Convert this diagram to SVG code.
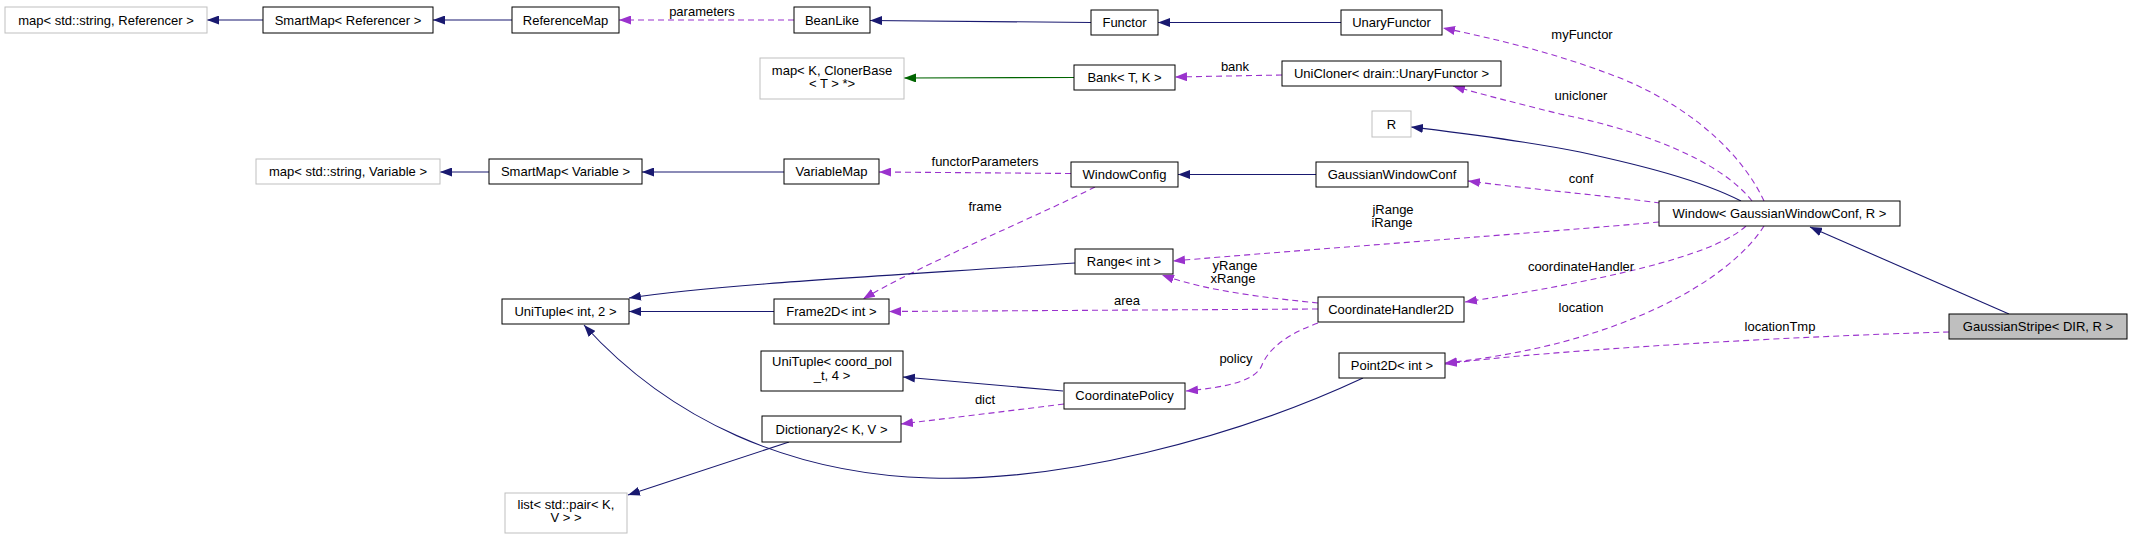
<svg xmlns="http://www.w3.org/2000/svg" width="2132" height="539" viewBox="0 0 2132 539">
<style>
text{font-family:"Liberation Sans",Arial,sans-serif;font-size:13px;fill:#000;text-anchor:middle}
.n{fill:#fff;stroke:#000;stroke-width:1}
.g{fill:#fff;stroke:#bfbfbf;stroke-width:1}
.s{fill:#bfbfbf;stroke:#000;stroke-width:1}
.e{fill:none;stroke:#191970;stroke-width:1.1;marker-end:url(#an)}
.d{fill:none;stroke:#9a32cd;stroke-width:1.1;stroke-dasharray:6,4;marker-end:url(#ap)}
.t{fill:none;stroke:#006400;stroke-width:1.1;marker-end:url(#ag)}
</style>
<defs>
<marker id="an" viewBox="0 0 12 9" refX="12" refY="4.5" markerWidth="12" markerHeight="9" orient="auto" markerUnits="userSpaceOnUse"><path d="M0,0 L12,4.5 L0,9 z" fill="#191970"/></marker>
<marker id="ap" viewBox="0 0 12 9" refX="12" refY="4.5" markerWidth="12" markerHeight="9" orient="auto" markerUnits="userSpaceOnUse"><path d="M0,0 L12,4.5 L0,9 z" fill="#9a32cd"/></marker>
<marker id="ag" viewBox="0 0 12 9" refX="12" refY="4.5" markerWidth="12" markerHeight="9" orient="auto" markerUnits="userSpaceOnUse"><path d="M0,0 L12,4.5 L0,9 z" fill="#006400"/></marker>
</defs>
<rect width="2132" height="539" fill="#fff"/>
<g id="connectors">
<path class="e" d="M263,20 L207,20"/>
<path class="e" d="M512,20 L433,20"/>
<path class="d" d="M794,20 L619,20"/>
<text x="702" y="15.5">parameters</text>
<path class="e" d="M1091,22.5 L870,20.5"/>
<path class="e" d="M1341,22.5 L1158,22.5"/>
<path class="t" d="M1074,77.5 L904,78"/>
<path class="d" d="M1282,75 L1175,77"/>
<text x="1235" y="71">bank</text>
<path class="d" d="M1764,201 C1745,160 1700,112 1625,80 C1560,54 1500,40 1443,28"/>
<text x="1582" y="39">myFunctor</text>
<path class="d" d="M1752,201 C1720,160 1640,130 1560,114 C1520,104 1480,94 1453,86"/>
<text x="1581" y="100">unicloner</text>
<path class="e" d="M1741,201 C1700,180 1640,165 1580,152 C1520,140 1460,133 1411,127"/>
<path class="e" d="M1316,174.5 L1178,174.5"/>
<path class="d" d="M1660,203 C1600,195 1520,188 1468,181"/>
<text x="1581" y="183">conf</text>
<path class="d" d="M1071,173.5 L879,172"/>
<text x="985" y="166">functorParameters</text>
<path class="e" d="M784,172 L642,172"/>
<path class="e" d="M489,172 L440,172"/>
<path class="d" d="M1095,187 C1040,215 920,265 863,299"/>
<text x="985" y="211">frame</text>
<path class="d" d="M1659,222 C1550,232 1300,250 1173,261"/>
<text x="1393" y="214">jRange</text>
<text x="1392" y="227">iRange</text>
<path class="e" d="M1075,263 C900,275 720,284 629,298"/>
<path class="e" d="M774,311.5 L629,311.5"/>
<path class="d" d="M1318,303 C1270,298 1210,292 1162,275"/>
<text x="1235" y="270">yRange</text>
<text x="1233" y="283">xRange</text>
<path class="d" d="M1318,309 L889,311.5"/>
<text x="1127" y="305">area</text>
<path class="d" d="M1746,226 C1720,250 1640,275 1465,302"/>
<text x="1581" y="271">coordinateHandler</text>
<path class="d" d="M1318,323 C1285,335 1268,350 1262,365 C1256,380 1230,387 1186,391"/>
<text x="1236" y="363">policy</text>
<path class="d" d="M1764,226 C1730,280 1620,345 1445,363"/>
<text x="1581" y="312">location</text>
<path class="d" d="M1949,332 C1800,336 1550,350 1445,364"/>
<text x="1780" y="331">locationTmp</text>
<path class="e" d="M2009,314 L1810,227"/>
<path class="e" d="M1063,391 L903,377"/>
<path class="d" d="M1064,404 C1000,412 950,418 901,424"/>
<text x="985" y="404">dict</text>
<path class="e" d="M1363,378 C1230,440 1060,482 930,478 C790,474 670,420 584,325"/>
<path class="e" d="M789,442 L628,495"/>
</g>
<g id="n_map_ref"><rect class="g" x="5" y="7" width="202" height="26"/><text x="106" y="24.5">map&lt; std::string, Referencer &gt;</text></g>
<g id="n_smartmap_ref"><rect class="n" x="263" y="7" width="170" height="26"/><text x="348" y="24.5">SmartMap&lt; Referencer &gt;</text></g>
<g id="n_referencemap"><rect class="n" x="512" y="7" width="107" height="26"/><text x="565.5" y="24.5">ReferenceMap</text></g>
<g id="n_beanlike"><rect class="n" x="794" y="7" width="76" height="26"/><text x="832" y="24.5">BeanLike</text></g>
<g id="n_functor"><rect class="n" x="1091" y="10" width="67" height="25"/><text x="1124.5" y="27">Functor</text></g>
<g id="n_unaryfunctor"><rect class="n" x="1341" y="10" width="101" height="25"/><text x="1391.5" y="27">UnaryFunctor</text></g>
<g id="n_map_cloner"><rect class="g" x="760" y="58" width="144" height="41"/><text x="832" y="75">map&lt; K, ClonerBase</text><text x="832" y="88">&lt; T &gt; *&gt;</text></g>
<g id="n_bank"><rect class="n" x="1074" y="65" width="101" height="25"/><text x="1124.5" y="82">Bank&lt; T, K &gt;</text></g>
<g id="n_unicloner"><rect class="n" x="1282" y="61" width="219" height="25"/><text x="1391.5" y="78">UniCloner&lt; drain::UnaryFunctor &gt;</text></g>
<g id="n_r"><rect class="g" x="1372" y="111" width="39" height="26"/><text x="1391.5" y="128.5">R</text></g>
<g id="n_map_var"><rect class="g" x="256" y="159" width="184" height="25"/><text x="348" y="176">map&lt; std::string, Variable &gt;</text></g>
<g id="n_smartmap_var"><rect class="n" x="489" y="159" width="153" height="25"/><text x="565.5" y="176">SmartMap&lt; Variable &gt;</text></g>
<g id="n_variablemap"><rect class="n" x="784" y="159" width="95" height="25"/><text x="831.5" y="176">VariableMap</text></g>
<g id="n_windowconfig"><rect class="n" x="1071" y="162" width="107" height="25"/><text x="1124.5" y="179">WindowConfig</text></g>
<g id="n_gaussianwindowconf"><rect class="n" x="1316" y="162" width="152" height="25"/><text x="1392" y="179">GaussianWindowConf</text></g>
<g id="n_window"><rect class="n" x="1659" y="201" width="241" height="25"/><text x="1779.5" y="218">Window&lt; GaussianWindowConf, R &gt;</text></g>
<g id="n_range"><rect class="n" x="1075" y="249" width="98" height="25"/><text x="1124" y="266">Range&lt; int &gt;</text></g>
<g id="n_unituple_int"><rect class="n" x="502" y="299" width="127" height="25"/><text x="565.5" y="316">UniTuple&lt; int, 2 &gt;</text></g>
<g id="n_frame2d"><rect class="n" x="774" y="299" width="115" height="25"/><text x="831.5" y="316">Frame2D&lt; int &gt;</text></g>
<g id="n_coordinatehandler"><rect class="n" x="1318" y="297" width="146" height="25"/><text x="1391" y="314">CoordinateHandler2D</text></g>
<g id="n_gaussianstripe"><rect class="s" x="1949" y="314" width="178" height="25"/><text x="2038" y="331">GaussianStripe&lt; DIR, R &gt;</text></g>
<g id="n_unituple_coord"><rect class="n" x="761" y="351" width="142" height="40"/><text x="832" y="366">UniTuple&lt; coord_pol</text><text x="832" y="380">_t, 4 &gt;</text></g>
<g id="n_point2d"><rect class="n" x="1339" y="353" width="106" height="25"/><text x="1392" y="370">Point2D&lt; int &gt;</text></g>
<g id="n_coordinatepolicy"><rect class="n" x="1064" y="383" width="121" height="26"/><text x="1124.5" y="400">CoordinatePolicy</text></g>
<g id="n_dictionary2"><rect class="n" x="762" y="416" width="139" height="26"/><text x="831.5" y="433.5">Dictionary2&lt; K, V &gt;</text></g>
<g id="n_list"><rect class="g" x="505" y="493" width="122" height="40"/><text x="566" y="509">list&lt; std::pair&lt; K,</text><text x="566" y="522">V &gt; &gt;</text></g>
</svg>
